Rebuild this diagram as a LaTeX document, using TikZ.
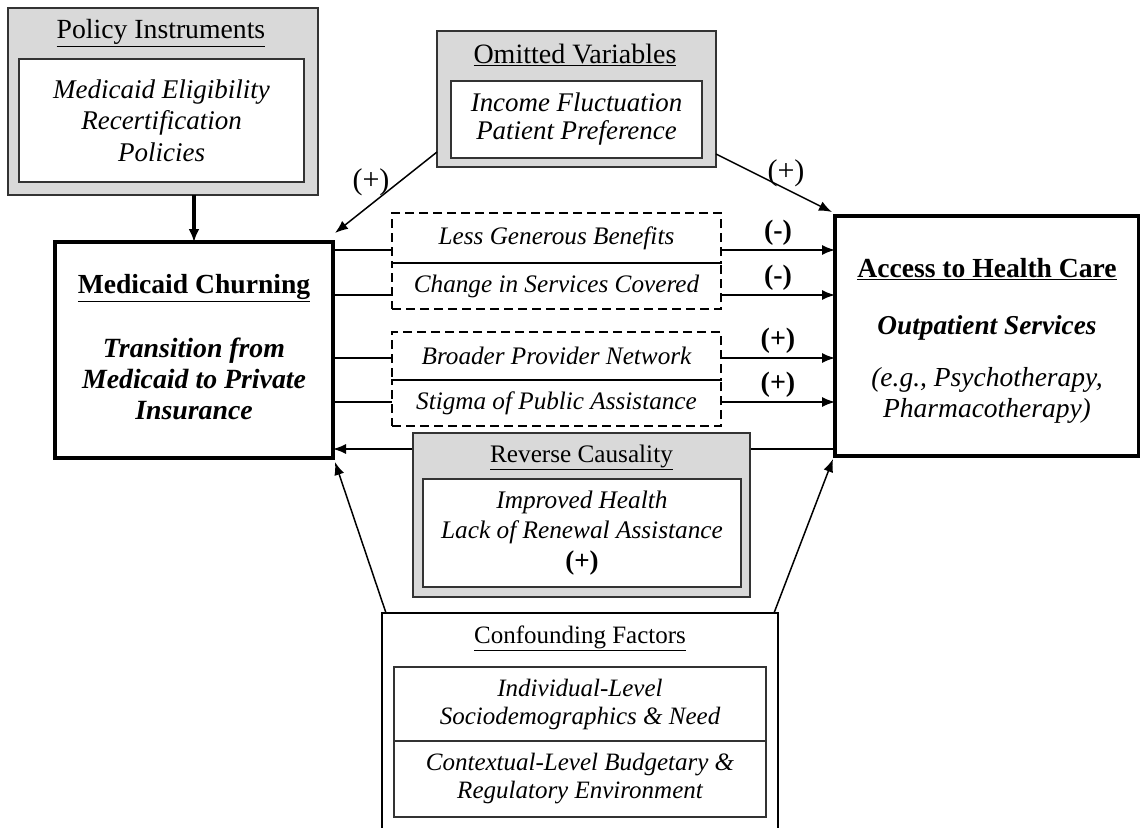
\documentclass[tikz,border=0pt]{standalone}
\usepackage{fontspec}
\setmainfont{Liberation Serif}
\usetikzlibrary{arrows.meta}

\begin{document}
\begin{tikzpicture}[x=1pt,y=-1pt,
  every node/.style={outer sep=0pt,inner sep=0pt},
  txt/.style={font=\fontsize{26}{30}\selectfont,align=center},
  itxt/.style={font=\fontsize{26}{30}\selectfont\itshape,align=center},
  graybox/.style={draw=black!80,fill=gray!30,line width=1.5pt},
  whitebox/.style={draw=black!80,fill=white,line width=1.5pt,itxt},
  mainbox/.style={draw,line width=4pt,fill=white},
  dashbox/.style={draw,line width=1.5pt,dash pattern=on 9pt off 5pt,itxt,font=\fontsize{25.2}{30}\selectfont\itshape},
  arr/.style={-{Latex[length=13pt,width=10pt]},line width=1.5pt},
  sign/.style={font=\fontsize{28}{30}\selectfont\bfseries}]
\useasboundingbox (0,0) rectangle (1140,827);

% policy instruments
\node[graybox,minimum width=310,minimum height=187] (pol) at (163,101.5) {};
\node[txt,font=\fontsize{27.7}{30}\selectfont] (poltitle) at (161,33) {\underline{Policy Instruments}};
\node[whitebox,minimum width=285,minimum height=123,font=\fontsize{27}{31.5}\selectfont\itshape] (polin) at (161.5,120.5)
  {Medicaid Eligibility\\Recertification\\Policies};

% omitted variables
\node[graybox,minimum width=279,minimum height=136] (om) at (576.5,99) {};
\node[txt,font=\fontsize{28}{30}\selectfont] (omtitle) at (575,55) {\underline{Omitted Variables}};
\node[whitebox,minimum width=251,minimum height=77,font=\fontsize{26.9}{28}\selectfont\itshape] (omin) at (576.5,119.5)
  {Income Fluctuation\\Patient Preference};

% main boxes
\node[mainbox,minimum width=278,minimum height=216] (mc) at (194,350) {};
\node[txt,font=\fontsize{27.6}{30}\selectfont\bfseries] (mctitle) at (194,288) {\underline{Medicaid Churning}};
\node[txt,font=\fontsize{27.8}{31}\selectfont\bfseries\itshape] (mcbody) at (194,379)
  {Transition from\\Medicaid to Private\\Insurance};

\node[mainbox,minimum width=304,minimum height=240] (ac) at (987,336) {};
\node[txt,font=\fontsize{27.6}{30}\selectfont\bfseries] (actitle) at (987,269) {\underline{Access to Health Care}};
\node[txt,font=\fontsize{27.3}{30}\selectfont\bfseries\itshape] (acsub) at (987,328) {Outpatient Services};
\node[itxt,font=\fontsize{27.5}{31}\selectfont\itshape] (acbody) at (987,395)
  {(e.g., Psychotherapy,\\Pharmacotherapy)};

% mediators
\node[dashbox,minimum width=329,minimum height=50] (d1) at (556.5,238) {Less Generous Benefits};
\node[dashbox,minimum width=329,minimum height=46] (d2) at (556.5,286) {Change in Services Covered};
\node[dashbox,minimum width=329,minimum height=48] (d3) at (556.5,356) {Broader Provider Network};
\node[dashbox,minimum width=329,minimum height=46] (d4) at (556.5,403) {Stigma of Public Assistance};

\draw[line width=1.5pt] (mc.east |- 0,250) -- (d1.west |- 0,250);
\draw[line width=1.5pt] (mc.east |- 0,295) -- (d2.west |- 0,295);
\draw[line width=1.5pt] (mc.east |- 0,358) -- (d3.west |- 0,358);
\draw[line width=1.5pt] (mc.east |- 0,402) -- (d4.west |- 0,402);
\draw[arr] (d1.east |- 0,250) -- (ac.west |- 0,250) node[sign,midway,above=5pt] {(-)};
\draw[arr] (d2.east |- 0,295) -- (ac.west |- 0,295) node[sign,midway,above=5pt] {(-)};
\draw[arr] (d3.east |- 0,358) -- (ac.west |- 0,358) node[sign,midway,above=5pt] {(+)};
\draw[arr] (d4.east |- 0,402) -- (ac.west |- 0,402) node[sign,midway,above=5pt] {(+)};

% reverse causality
\draw[arr] (ac.west |- 0,449) -- (mc.east |- 0,449);
\node[graybox,minimum width=337,minimum height=164] (rc) at (581.5,515) {};
\node[txt,font=\fontsize{25.2}{30}\selectfont] (rctitle) at (581.5,457) {\underline{Reverse Causality}};
\node[whitebox,minimum width=318,minimum height=108,font=\fontsize{25.3}{30.5}\selectfont\itshape] (rcin) at (582,533)
  {Improved Health\\Lack of Renewal Assistance\\\textup{\bfseries\fontsize{27}{30}\selectfont (+)}};

% omitted variable arrows
\draw[arr] (om.west |- 0,152) -- ([shift={(2,-9)}]mc.north east);
\draw[arr] (om.east |- 0,154) -- ([shift={(-3,-4)}]ac.north west);
\node[txt,font=\fontsize{30}{30}\selectfont] (omsl) at (371,182) {(+)};
\node[txt,font=\fontsize{30}{30}\selectfont] (omsr) at (786,173) {(+)};

% confounding factors
\coordinate (cfnw) at (382,613);
\coordinate (cfne) at (778,613);
\draw[line width=1.5pt,fill=white] (382,840) -- (cfnw) -- (cfne) -- (778,840);
\node[txt,font=\fontsize{25}{30}\selectfont] (cftitle) at (580,638) {\underline{Confounding Factors}};
\node[whitebox,minimum width=372,minimum height=74,font=\fontsize{25}{28}\selectfont\itshape] (cf1) at (580,704)
  {Individual-Level\\Sociodemographics \& Need};
\node[whitebox,minimum width=372,minimum height=76,font=\fontsize{25}{28}\selectfont\itshape] (cf2) at (580,779)
  {Contextual-Level Budgetary \&\\Regulatory Environment};
\draw[arr] ([xshift=4]cfnw) -- ([shift={(2,4)}]mc.south east);
\draw[arr] ([xshift=-4]cfne) -- ([shift={(-2,3)}]ac.south west);

% policy arrow
\draw[-{Latex[length=13pt,width=11pt]},line width=3.5pt] (pol.south -| mc.north) -- (mc.north);
\end{tikzpicture}
\end{document}
